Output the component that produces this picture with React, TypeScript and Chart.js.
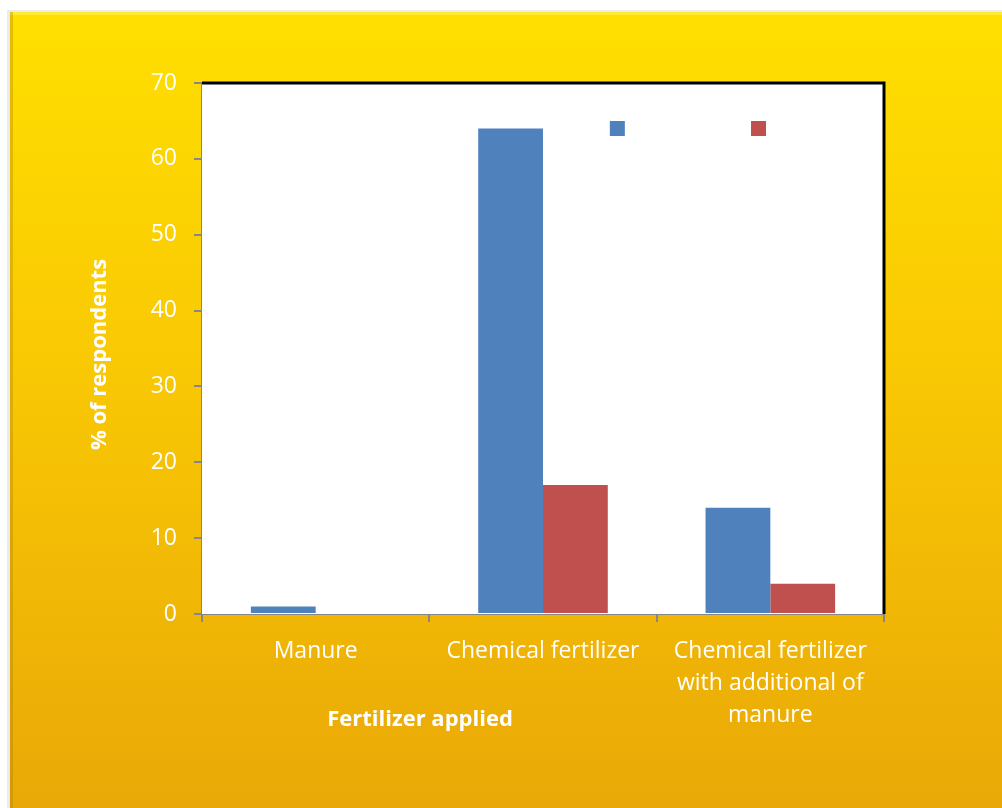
import React, { useEffect, useRef } from "react";
import { Chart, registerables } from "chart.js";

Chart.register(...registerables);

const categories: (string | string[])[] = [
  "Manure",
  "Chemical fertilizer",
  ["Chemical fertilizer", "with additional of", "manure"],
];
const seriesA: number[] = [1, 64, 14];
const seriesB: number[] = [0, 17, 4];
const seriesLabels: string[] = ["", ""];
const seriesColors: string[] = ["#4F81BD", "#C0504D"];
const yTitle = "% of respondents";
const xTitle = "Fertilizer applied";

const FONT = "'Open Sans', 'Noto Sans', sans-serif";

const backgroundPlugin = {
  id: "panelBg",
  beforeDraw(chart: any) {
    const { ctx, width, height } = chart;
    ctx.save();
    ctx.fillStyle = "#ffffff";
    ctx.fillRect(0, 0, width, height);
    const x0 = 10, y0 = 12;
    ctx.fillStyle = "rgba(0,0,0,0.08)";
    ctx.fillRect(x0 - 3, y0 - 2, width - x0 + 3, height - y0 + 2);
    const g = ctx.createLinearGradient(0, y0, 0, height);
    g.addColorStop(0, "#FFDF00");
    g.addColorStop(0.45, "#F9C804");
    g.addColorStop(1, "#E9A807");
    ctx.fillStyle = g;
    ctx.fillRect(x0, y0, width - x0, height - y0);
    ctx.fillStyle = "rgba(255,255,120,0.4)";
    ctx.fillRect(x0, y0, width - x0, 3);
    ctx.fillStyle = "rgba(160,120,0,0.3)";
    ctx.fillRect(x0, y0, 3, height - y0);
    ctx.restore();
  },
  beforeDatasetsDraw(chart: any) {
    const { ctx, chartArea: a } = chart;
    ctx.save();
    ctx.fillStyle = "#ffffff";
    ctx.fillRect(a.left, a.top, a.right - a.left, a.bottom - a.top);
    ctx.restore();
  },
  afterDraw(chart: any) {
    const { ctx, chartArea: a } = chart;
    ctx.save();
    ctx.strokeStyle = "#000000";
    ctx.lineWidth = 3;
    ctx.beginPath();
    ctx.moveTo(a.left, a.top);
    ctx.lineTo(a.right, a.top);
    ctx.lineTo(a.right, a.bottom);
    ctx.stroke();
    const w = a.right - a.left;
    const lx = [a.left + w * 0.598, a.left + w * 0.805];
    chart.data.datasets.forEach((ds: any, i: number) => {
      ctx.fillStyle = ds.backgroundColor;
      ctx.fillRect(lx[i], a.top + 38, 15, 15);
    });
    ctx.fillStyle = "#ffffff";
    ctx.font = `bold 22px ${FONT}`;
    ctx.textAlign = "center";
    ctx.textBaseline = "middle";
    ctx.fillText(xTitle, 420, 720);
    ctx.translate(100, (a.top + a.bottom) / 2 + 6);
    ctx.rotate(-Math.PI / 2);
    ctx.fillText(yTitle, 0, 0);
    ctx.restore();
  },
};

export default function App() {
  const ref = useRef<HTMLCanvasElement | null>(null);
  useEffect(() => {
    document.body.style.margin = "0";
    const canvas = ref.current!;
    const chart = new Chart(canvas, {
      type: "bar",
      data: {
        labels: categories as any,
        datasets: [
          { label: seriesLabels[0], data: seriesA, backgroundColor: seriesColors[0], categoryPercentage: 0.57, barPercentage: 1 },
          { label: seriesLabels[1], data: seriesB, backgroundColor: seriesColors[1], categoryPercentage: 0.57, barPercentage: 1 },
        ],
      },
      options: {
        responsive: false,
        animation: false,
        devicePixelRatio: 1,
        layout: { padding: { top: 83, right: 118, left: 0, bottom: 0 } },
        plugins: { legend: { display: false }, tooltip: { enabled: false } },
        scales: {
          x: {
            grid: { offset: true, drawOnChartArea: false, tickLength: 8, color: "#868686", lineWidth: 2 },
            border: { color: "#868686", width: 2 },
            ticks: {
              color: "#ffffff",
              font: { family: FONT, size: 23, lineHeight: 32 / 23 },
              padding: 13,
              maxRotation: 0,
              autoSkip: false,
            },
            afterFit: (s: any) => { s.height = 194; },
          },
          y: {
            min: 0,
            max: 70,
            ticks: { stepSize: 10, color: "#ffffff", font: { family: FONT, size: 23 }, padding: 17 },
            grid: { drawOnChartArea: false, tickLength: 8, color: "#868686", lineWidth: 2 },
            border: { color: "#868686", width: 2 },
            afterFit: (s: any) => { s.width = 202; },
          },
        },
      },
      plugins: [backgroundPlugin],
    });
    return () => chart.destroy();
  }, []);
  return (
    <div style={{ position: "absolute", left: 0, top: 0, width: 1002, height: 808 }}>
      <canvas ref={ref} width={1002} height={808} style={{ display: "block" }} />
    </div>
  );
}
